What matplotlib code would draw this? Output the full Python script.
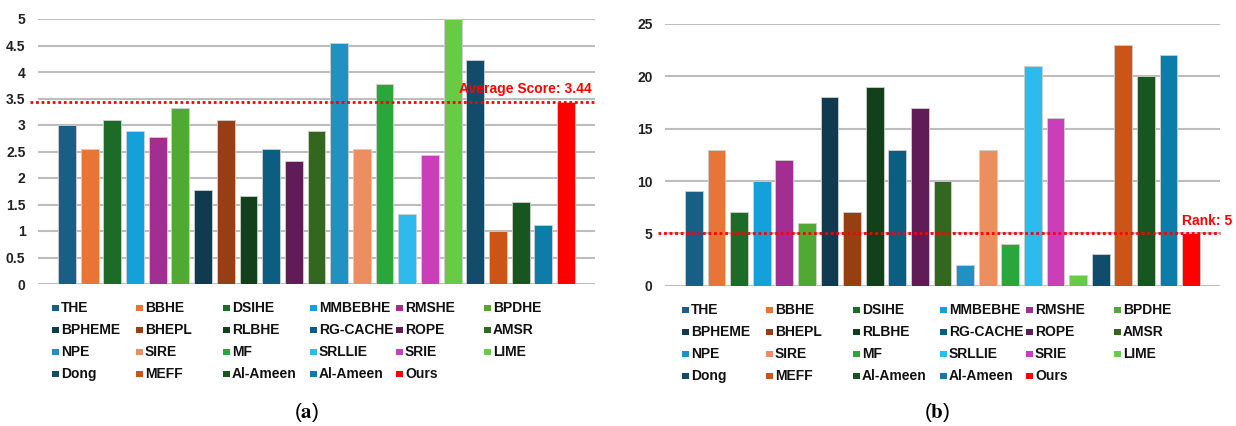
import matplotlib
matplotlib.use("Agg")
import matplotlib.pyplot as plt
import matplotlib.patches as patches
import numpy as np

plt.rcParams['font.family'] = ['Liberation Sans', 'DejaVu Sans']
plt.rcParams['mathtext.fontset'] = 'stix'

methods = ["THE", "BBHE", "DSIHE", "MMBEBHE", "RMSHE", "BPDHE",
           "BPHEME", "BHEPL", "RLBHE", "RG-CACHE", "ROPE", "AMSR",
           "NPE", "SIRE", "MF", "SRLLIE", "SRIE", "LIME",
           "Dong", "MEFF", "Al-Ameen", "Al-Ameen", "Ours"]

scores = [3.00, 2.55, 3.10, 2.88, 2.77, 3.33,
          1.77, 3.10, 1.66, 2.55, 2.33, 2.88,
          4.55, 2.55, 3.77, 1.33, 2.44, 5.00,
          4.22, 1.00, 1.55, 1.11, 3.44]

ranks = [9, 13, 7, 10, 12, 6,
         18, 7, 19, 13, 17, 10,
         2, 13, 4, 21, 16, 1,
         3, 23, 20, 22, 5]

colors = ["#175f84", "#e87436", "#1c6b26", "#14a0d8", "#a12e90", "#51a833",
          "#0f3a50", "#963f12", "#12401a", "#0b5e81", "#5f1c56", "#33661f",
          "#2190c3", "#ec8f60", "#2aa63b", "#2fbaee", "#cb3eb9", "#68cb46",
          "#134c6a", "#cb5517", "#17561f", "#0d7ca9", "#ff0000"]

avg_score = 3.44
our_rank = 5

W, H = 1236, 426
fig = plt.figure(figsize=(W / 100, H / 100), dpi=100)


def px_axes(left, top, right, bottom):
    return fig.add_axes([left / W, 1 - bottom / H, (right - left) / W, (bottom - top) / H])


def draw_bars(ax, values, yticks, ymax):
    x = np.arange(len(values))
    ax.bar(x, values, width=0.79, color=colors, edgecolor="#cfcfcf", linewidth=0.6, zorder=2)
    ax.set_xlim(-1.28, len(values) - 1 + 1.28)
    ax.set_ylim(0, ymax)
    ax.set_xticks([])
    ax.set_yticks(yticks)
    ax.set_yticklabels([f"{t:g}" for t in yticks], fontweight="bold", color="#222222")
    ax.tick_params(axis="y", length=0, pad=9, labelsize=10)
    ax.grid(axis="y", color="#bdbdbd", linewidth=1.5, zorder=0)
    ax.set_axisbelow(True)
    for s in ax.spines.values():
        s.set_visible(False)
    for t in ax.get_yticklines():
        t.set_clip_on(False)


def ref_line(ax, y, x_start):
    ax.plot([x_start, 1.0], [y, y], transform=ax.get_yaxis_transform(),
            color="red", linewidth=2, linestyle=(0, (1, 1)), clip_on=False, zorder=3)


def draw_legend(x0, y0, row_gap, col_offsets):
    ncol = len(col_offsets)
    for k, (name, c) in enumerate(zip(methods, colors)):
        r, col = divmod(k, ncol)
        x = x0 + col_offsets[col]
        y = y0 + r * row_gap
        fig.add_artist(patches.Rectangle((x / W, 1 - (y + 3.3) / H), 6.5 / W, 6.5 / H,
                                         transform=fig.transFigure, facecolor=c, edgecolor="none"))
        fig.text((x + 9) / W, 1 - y / H, name, fontsize=10, fontweight="bold",
                 color="#111111", va="center", ha="left")


# (a) subjective scores
ax1 = px_axes(38, 19, 595, 284)
draw_bars(ax1, scores, np.arange(0, 5.01, 0.5), 5)
ref_line(ax1, avg_score, -0.0145)
ax1.text(0.995, avg_score + 0.1, f"Average Score: {avg_score}", transform=ax1.get_yaxis_transform(),
         color="red", fontsize=10, fontweight="bold", ha="right", va="bottom")

# (b) ranking
ax2 = px_axes(665, 24, 1220, 285.7)
draw_bars(ax2, ranks, np.arange(0, 26, 5), 25)
ref_line(ax2, our_rank, -0.0126)
ax2.text(0.931, our_rank + 0.55, f"Rank: {our_rank}", transform=ax2.get_yaxis_transform(),
         color="red", fontsize=10, fontweight="bold", ha="left", va="bottom", clip_on=False)

offsets = [0, 84, 171, 258, 344, 432]
draw_legend(52, 308, 22, offsets)
draw_legend(682, 310, 22, offsets)

fig.text(307 / W, 1 - 413 / H, r"($\mathbf{a}$)", fontsize=15, ha="center", va="center")
fig.text(937 / W, 1 - 413 / H, r"($\mathbf{b}$)", fontsize=15, ha="center", va="center")

fig.savefig("out.png", dpi=100)
